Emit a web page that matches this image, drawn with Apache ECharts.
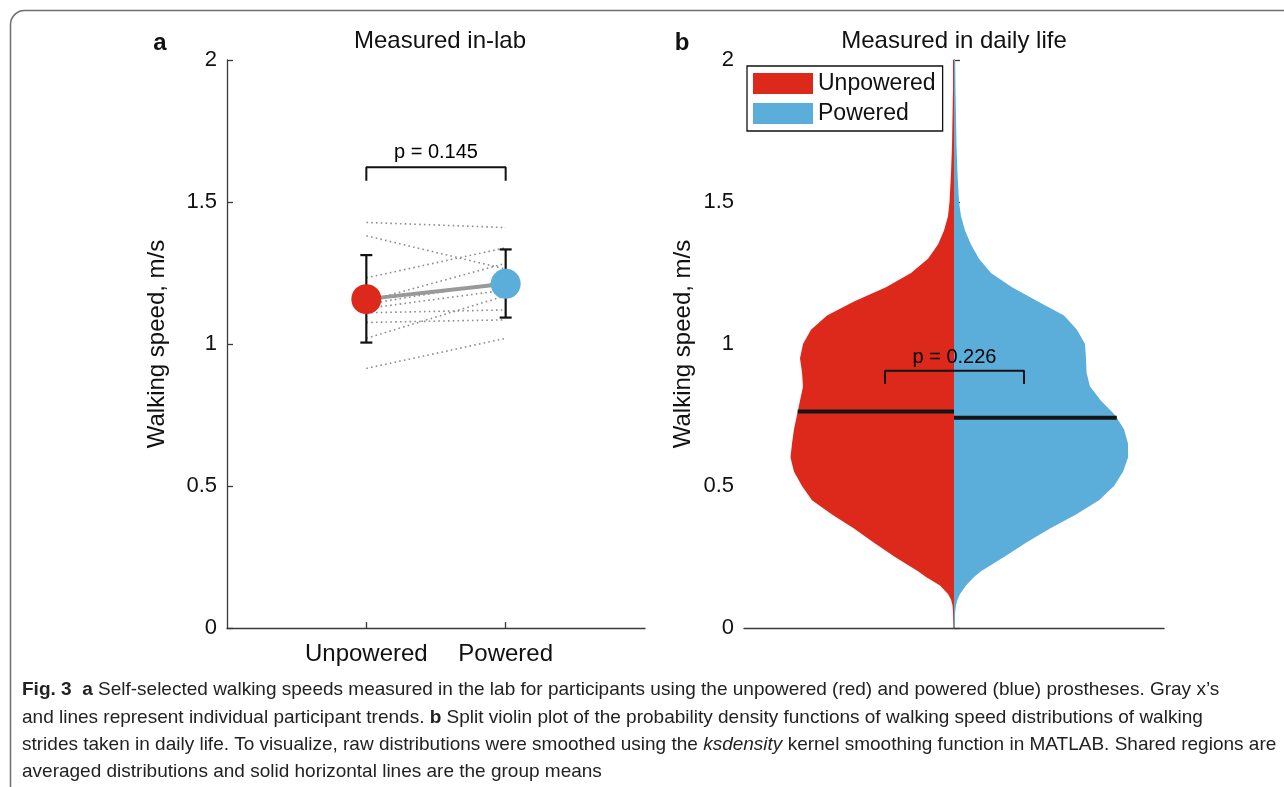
<!DOCTYPE html>
<html>
<head>
<meta charset="utf-8">
<script src="https://cdn.jsdelivr.net/npm/echarts@6/dist/echarts.min.js"></script>
<style>
html,body{margin:0;padding:0;background:#fff;}
#chart{width:1284px;height:787px;}
</style>
</head>
<body>
<div id="chart"></div>
<script>
// ---------- Data ----------
const categories = ['Unpowered', 'Powered'];
// individual participants (lab), m/s
const unpoweredLab = [1.428, 1.381, 1.233, 1.150, 1.140, 1.125, 1.110, 1.076, 1.020, 0.914];
const poweredLab   = [1.410, 1.264, 1.339, 1.284, 1.220, 1.190, 1.120, 1.085, 1.170, 1.020];
// group means and error bars (lab)
const labMeans   = [1.158, 1.212];
const labErrLow  = [1.005, 1.093];
const labErrHigh = [1.313, 1.333];
const labBracket = [1.575, 1.622];
const labPText = 'p = 0.145';

// daily-life speed distributions (ksdensity), speed grid m/s
const speeds = [0, 0.02, 0.05, 0.08, 0.10, 0.12, 0.15, 0.18, 0.20, 0.25,
  0.30, 0.35, 0.40, 0.45, 0.50, 0.55, 0.60, 0.65, 0.70, 0.75,
  0.80, 0.85, 0.90, 0.95, 1.00, 1.05, 1.10, 1.15, 1.20, 1.25,
  1.30, 1.35, 1.40, 1.45, 1.50, 1.60, 1.70, 1.80, 1.90, 2.00];
const densityUnpowered = [0, 0.003, 0.008, 0.015, 0.03, 0.06, 0.14, 0.28, 0.36, 0.59,
  0.80, 1.00, 1.22, 1.42, 1.52, 1.60, 1.635, 1.62, 1.60, 1.57,
  1.54, 1.51, 1.52, 1.54, 1.51, 1.43, 1.27, 1.00, 0.68, 0.43,
  0.26, 0.16, 0.10, 0.06, 0.045, 0.03, 0.02, 0.015, 0.01, 0.01];
const densityPowered = [0, 0.005, 0.01, 0.02, 0.035, 0.06, 0.12, 0.20, 0.27, 0.50,
  0.72, 0.96, 1.22, 1.45, 1.60, 1.69, 1.74, 1.74, 1.70, 1.61,
  1.47, 1.36, 1.325, 1.32, 1.31, 1.23, 1.10, 0.84, 0.58, 0.37,
  0.25, 0.17, 0.11, 0.07, 0.05, 0.035, 0.025, 0.02, 0.015, 0.012];
const dailyMeans = [0.762, 0.740];
const dailyBracketX = [-0.69, 0.70];
const dailyBracket = [0.859, 0.906];
const dailyPText = 'p = 0.226';

// ---------- Styles ----------
const RED = '#DC291B';
const BLUE = '#5CAEDA';
const AX = '#3a3a3a';
const FONT = '"Liberation Sans", Arial, Helvetica, sans-serif';

function interp(xs, ys, x) {
  for (let i = 1; i < xs.length; i++) {
    if (x <= xs[i]) {
      const t = (x - xs[i - 1]) / (xs[i] - xs[i - 1]);
      return ys[i - 1] + t * (ys[i] - ys[i - 1]);
    }
  }
  return ys[ys.length - 1];
}

function violinRender(dens, side, color) {
  return function (params, api) {
    const pts = [api.coord([0, speeds[0]])];
    for (let i = 0; i < speeds.length; i++) pts.push(api.coord([side * dens[i], speeds[i]]));
    pts.push(api.coord([0, speeds[speeds.length - 1]]));
    return { type: 'polygon', shape: { points: pts }, style: { fill: color } };
  };
}

const yAxisBase = {
  type: 'value', min: 0, max: 2, interval: 0.5,
  name: 'Walking speed, m/s', nameLocation: 'middle',
  nameTextStyle: { fontSize: 24, color: '#111', fontFamily: FONT },
  axisLine: { show: true, lineStyle: { color: AX, width: 1.3 } },
  axisTick: { show: true, inside: true, length: 6, lineStyle: { color: AX, width: 1.3 } },
  axisLabel: { fontSize: 22, color: '#111', fontFamily: FONT, margin: 10 },
  splitLine: { show: false }
};

const series = [];
// participant dotted lines
unpoweredLab.forEach((u, i) => {
  series.push({
    type: 'line', xAxisIndex: 0, yAxisIndex: 0, silent: true,
    data: [[1, u], [2, poweredLab[i]]], symbol: 'none',
    lineStyle: { color: '#8e8e8e', width: 1.6, type: [1.6, 3.2] }, z: 1
  });
});
// error bars
series.push({
  type: 'custom', xAxisIndex: 0, yAxisIndex: 0, silent: true, z: 2,
  data: categories.map((c, i) => [i + 1, labErrLow[i], labErrHigh[i]]),
  renderItem: function (params, api) {
    const x = api.value(0);
    const lo = api.coord([x, api.value(1)]);
    const hi = api.coord([x, api.value(2)]);
    const st = { stroke: '#111', lineWidth: 2.2 };
    return {
      type: 'group', children: [
        { type: 'line', shape: { x1: lo[0], y1: lo[1], x2: hi[0], y2: hi[1] }, style: st },
        { type: 'line', shape: { x1: lo[0] - 6, y1: lo[1], x2: lo[0] + 6, y2: lo[1] }, style: st },
        { type: 'line', shape: { x1: hi[0] - 6, y1: hi[1], x2: hi[0] + 6, y2: hi[1] }, style: st }
      ]
    };
  }
});
// mean connecting line
series.push({
  type: 'line', xAxisIndex: 0, yAxisIndex: 0, silent: true, z: 3,
  data: labMeans.map((m, i) => [i + 1, m]), symbol: 'none',
  lineStyle: { color: '#999999', width: 4 }
});
// mean markers
series.push({
  type: 'scatter', name: 'labMeans', xAxisIndex: 0, yAxisIndex: 0, silent: true, z: 4,
  symbolSize: 30,
  data: labMeans.map((m, i) => ({ value: [i + 1, m], itemStyle: { color: i === 0 ? RED : BLUE, opacity: 1 } }))
});
// lab bracket
series.push({
  type: 'line', xAxisIndex: 0, yAxisIndex: 0, silent: true, z: 3, symbol: 'none',
  data: [[1, labBracket[0]], [1, labBracket[1]], [2, labBracket[1]], [2, labBracket[0]]],
  lineStyle: { color: '#111', width: 2 }
});
series.push({
  type: 'scatter', xAxisIndex: 0, yAxisIndex: 0, silent: true, symbolSize: 0, z: 5,
  data: [[1.5, labBracket[1]]],
  itemStyle: { opacity: 1 },
  label: { show: true, position: 'top', distance: 5, formatter: labPText, fontSize: 20, color: '#000', opacity: 1, fontFamily: FONT }
});

// violins
series.push({
  type: 'custom', name: 'Unpowered', xAxisIndex: 1, yAxisIndex: 1, silent: true, z: 1,
  itemStyle: { color: RED }, data: [[0, 0]],
  renderItem: violinRender(densityUnpowered, -1, RED)
});
series.push({
  type: 'custom', name: 'Powered', xAxisIndex: 1, yAxisIndex: 1, silent: true, z: 1,
  itemStyle: { color: BLUE }, data: [[0, 0]],
  renderItem: violinRender(densityPowered, 1, BLUE)
});
// group mean lines
const redHalf = interp(speeds, densityUnpowered, dailyMeans[0]);
const blueHalf = interp(speeds, densityPowered, dailyMeans[1]);
series.push({
  type: 'line', xAxisIndex: 1, yAxisIndex: 1, silent: true, z: 3, symbol: 'none',
  data: [[-redHalf, dailyMeans[0]], [0, dailyMeans[0]]],
  lineStyle: { color: '#151515', width: 4 }
});
series.push({
  type: 'line', xAxisIndex: 1, yAxisIndex: 1, silent: true, z: 3, symbol: 'none',
  data: [[0, dailyMeans[1]], [blueHalf, dailyMeans[1]]],
  lineStyle: { color: '#151515', width: 4 }
});
// daily bracket
series.push({
  type: 'line', xAxisIndex: 1, yAxisIndex: 1, silent: true, z: 4, symbol: 'none',
  data: [[dailyBracketX[0], dailyBracket[0]], [dailyBracketX[0], dailyBracket[1]],
         [dailyBracketX[1], dailyBracket[1]], [dailyBracketX[1], dailyBracket[0]]],
  lineStyle: { color: '#111', width: 2 }
});
series.push({
  type: 'scatter', xAxisIndex: 1, yAxisIndex: 1, silent: true, symbolSize: 0, z: 5,
  data: [[(dailyBracketX[0] + dailyBracketX[1]) / 2, dailyBracket[1]]],
  itemStyle: { opacity: 1 },
  label: { show: true, position: 'top', distance: 3, formatter: dailyPText, fontSize: 20, color: '#000', opacity: 1, fontFamily: FONT }
});

const capFont = '"Liberation Sans", Arial, sans-serif';
const capRich = {
  b: { fontWeight: 'bold', fontSize: 19, fontFamily: capFont, fill: '#222' },
  i: { fontStyle: 'italic', fontSize: 19, fontFamily: capFont, fill: '#222' },
  n: { fontSize: 19, fontFamily: capFont, fill: '#222' }
};
const captionLines = [
  '{b|Fig. 3}{n|  }{b|a}{n| Self-selected walking speeds measured in the lab for participants using the unpowered (red) and powered (blue) prostheses. Gray x\u2019s}',
  '{n|and lines represent individual participant trends. }{b|b}{n| Split violin plot of the probability density functions of walking speed distributions of walking}',
  '{n|strides taken in daily life. To visualize, raw distributions were smoothed using the }{i|ksdensity}{n| kernel smoothing function in MATLAB. Shared regions are}',
  '{n|averaged distributions and solid horizontal lines are the group means}'
];

const graphics = [
  { type: 'rect', shape: { x: 10.5, y: 10.5, width: 1300, height: 800, r: 14 }, style: { fill: 'none', stroke: '#6e6e6e', lineWidth: 1.5 }, silent: true },
  { type: 'text', x: 160, y: 43, style: { text: 'a', font: 'bold 24px ' + FONT, fill: '#111', textAlign: 'center', textVerticalAlign: 'middle' } },
  { type: 'text', x: 682, y: 43, style: { text: 'b', font: 'bold 24px ' + FONT, fill: '#111', textAlign: 'center', textVerticalAlign: 'middle' } },
  { type: 'text', x: 440, y: 41, style: { text: 'Measured in-lab', font: '24px ' + FONT, fill: '#111', textAlign: 'center', textVerticalAlign: 'middle' } },
  { type: 'text', x: 954, y: 41, style: { text: 'Measured in daily life', font: '24px ' + FONT, fill: '#111', textAlign: 'center', textVerticalAlign: 'middle' } }
];
captionLines.forEach((t, k) => {
  graphics.push({ type: 'text', x: 22, y: 690 + k * 27.3, style: { text: t, rich: capRich, textVerticalAlign: 'middle', font: '19px ' + capFont } });
});

const option = {
  animation: false,
  backgroundColor: '#fff',
  grid: [
    { left: 227, top: 60, width: 418, height: 568 },
    { left: 744, top: 60, width: 420, height: 568 }
  ],
  xAxis: [
    {
      type: 'value', gridIndex: 0, min: 0, max: 3, interval: 1,
      axisLine: { show: true, lineStyle: { color: AX, width: 1.3 } },
      axisTick: { show: true, inside: true, length: 6, customValues: [1, 2], lineStyle: { color: AX, width: 1.3 } },
      axisLabel: { show: true, customValues: [1, 2], formatter: v => categories[Math.round(v) - 1] || '', fontSize: 24, color: '#111', fontFamily: FONT, margin: 14 },
      splitLine: { show: false }
    },
    {
      type: 'value', gridIndex: 1, min: -2.1, max: 2.1,
      axisLine: { show: true, lineStyle: { color: AX, width: 1.3 } },
      axisTick: { show: false }, axisLabel: { show: false }, splitLine: { show: false }
    }
  ],
  yAxis: [
    Object.assign({}, yAxisBase, { gridIndex: 0, nameGap: 58 }),
    Object.assign({}, yAxisBase, { gridIndex: 1, nameGap: 49, axisLine: { show: true, lineStyle: { color: '#6a6a6a', width: 1.5 } } })
  ],
  legend: {
    orient: 'vertical', left: 747, top: 66,
    itemWidth: 60, itemHeight: 21, itemGap: 7,
    padding: [6, 7, 6, 6],
    borderColor: '#111', borderWidth: 1.3, backgroundColor: '#fff',
    textStyle: { fontSize: 23, color: '#111', fontFamily: FONT },
    data: [
      { name: 'Unpowered', icon: 'rect', itemStyle: { color: RED } },
      { name: 'Powered', icon: 'rect', itemStyle: { color: BLUE } }
    ],
    selectedMode: false
  },
  graphic: graphics,
  series: series
};

const chart = echarts.init(document.getElementById('chart'), null, { renderer: 'canvas' });
chart.setOption(option);
</script>
</body>
</html>
